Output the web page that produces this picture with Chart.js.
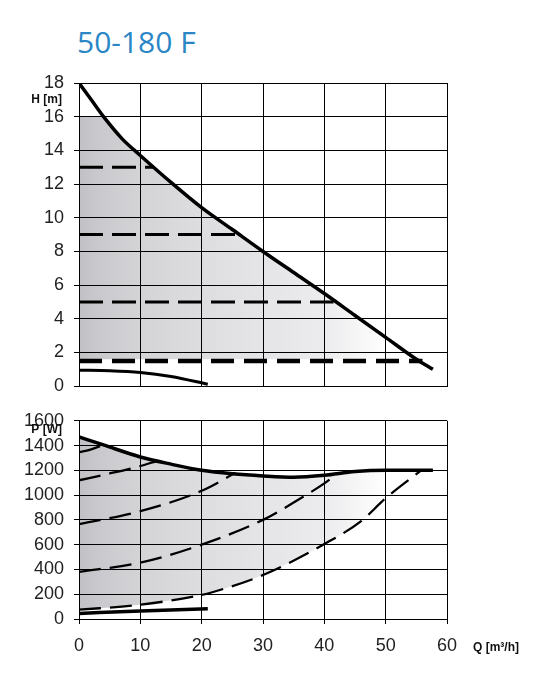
<!DOCTYPE html>
<html>
<head>
<meta charset="utf-8">
<script src="https://cdn.jsdelivr.net/npm/chart.js@4.4.0/dist/chart.umd.min.js"></script>
<style>
  body { margin: 0; background: #fff; width: 560px; height: 682px; position: relative; overflow: hidden; }
  #title { position: absolute; left: 77px; top: 27px; font: 400 30px/30px "Open Sans", sans-serif; color: #2a86c5; }
  canvas { position: absolute; left: 0; }
</style>
</head>
<body>
<div id="title">50-180 F</div>
<canvas id="headChart" width="560" height="407" style="top:0;width:560px;height:407px"></canvas>
<canvas id="powerChart" width="560" height="282" style="top:400px;width:560px;height:282px"></canvas>
<script>
// flow axis
var qMin = 0, qMax = 60, qStep = 10;

// head H [m]
var headQ = [0, 2, 4, 7, 10, 15, 20, 25, 30, 35, 40, 45, 50, 55, 57.7];
var headH = [18, 17, 16, 14.7, 13.7, 12.1, 10.6, 9.3, 8.0, 6.75, 5.5, 4.2, 2.9, 1.6, 1.0];
var headMinQ = [0, 5, 10, 15, 21];
var headMinH = [0.95, 0.92, 0.82, 0.58, 0.12];
var shadeHQ = [0, 3.9, 7, 10, 15, 20, 25, 30, 35, 40, 45, 50, 55.6];
var shadeHH = [16, 16, 14.7, 13.7, 12.1, 10.6, 9.3, 8.0, 6.75, 5.5, 4.2, 2.9, 1.6];
var shadeHBase = 1.6;
var levelH = [13, 9, 5, 1.5];
var levelEndQ = [12.2, 25.5, 41.5, 56];

// power P [W]
var powQ = [0, 4, 10, 15, 20, 25, 30, 35, 40, 45, 50, 57.7];
var powP = [1470, 1405, 1308, 1250, 1200, 1172, 1155, 1145, 1160, 1190, 1200, 1200];
var powMinQ = [0, 10, 21];
var powMinP = [45, 65, 82];
var shadePQ = [0, 4, 10, 15, 20, 25, 30, 35, 40, 45, 50, 55.8];
var shadePP = [1470, 1405, 1308, 1250, 1200, 1172, 1155, 1145, 1160, 1190, 1200, 1200];
var dashQ = [
  [0, 2, 4],
  [0, 5, 10, 12.7],
  [0, 10, 20, 25.5],
  [0, 10, 20, 30, 35, 40, 41.5],
  [0, 10, 20, 22, 30, 40, 46, 50, 55.8]
];
var dashP = [
  [1345, 1370, 1405],
  [1120, 1175, 1235, 1275],
  [765, 870, 1035, 1180],
  [380, 455, 600, 800, 940, 1095, 1150],
  [75, 115, 195, 220, 355, 605, 790, 975, 1200]
];

function pts(xs, ys) {
  return xs.map(function (x, i) { return { x: x, y: ys[i] }; });
}

function shade(ctx) {
  var ca = ctx.chart.chartArea;
  if (!ca) return 'rgba(0,0,0,0)';
  var g = ctx.chart.ctx.createLinearGradient(ca.left, 0, ca.right, 0);
  g.addColorStop(0, '#c1c1c5');
  g.addColorStop(0.05, '#c9c9cd');
  g.addColorStop(0.17, '#d4d4d7');
  g.addColorStop(0.33, '#dddde0');
  g.addColorStop(0.5, '#e5e5e8');
  g.addColorStop(0.67, '#ececee');
  g.addColorStop(0.76, '#f6f6f7');
  g.addColorStop(0.84, '#ffffff');
  return g;
}

var tickFont = { family: '"Liberation Sans", Arial, sans-serif', size: 18 };

function xAxis(showLabels) {
  return {
    type: 'linear', min: qMin, max: qMax,
    ticks: { stepSize: qStep, display: showLabels, font: tickFont, color: '#222', padding: 11, maxRotation: 0 },
    grid: { color: '#000', lineWidth: 1, drawTicks: showLabels, tickLength: 5 },
    border: { color: '#000', width: 1 },
    afterFit: function (s) { s.height = showLabels ? 40 : 0; }
  };
}

function yAxis(max, step) {
  return {
    min: 0, max: max,
    ticks: { stepSize: step, font: tickFont, color: '#222', padding: 10,
      callback: function (v) { return String(v); } },
    grid: { color: '#000', lineWidth: 1, tickLength: 5 },
    border: { color: '#000', width: 1 },
    afterFit: function (s) { s.width = 79; }
  };
}

// axis captions drawn at scale positions
function captions(items) {
  return {
    id: 'captions',
    afterDraw: function (chart) {
      var c = chart.ctx;
      c.save();
      c.fillStyle = '#111';
      c.font = 'bold 12px "Liberation Sans", Arial, sans-serif';
      c.textBaseline = 'middle';
      items.forEach(function (it) {
        var p = it.pos(chart);
        c.textAlign = it.align;
        c.fillText(it.text, p.x, p.y);
      });
      c.restore();
    }
  };
}

var solid = function (data, w) {
  return { data: data, borderColor: '#000', borderWidth: w, pointRadius: 0, fill: false, cubicInterpolationMode: 'monotone' };
};

// head chart
var headSets = [];
headSets.push({ data: pts(shadeHQ, shadeHH), borderWidth: 0, borderColor: 'rgba(0,0,0,0)', pointRadius: 0,
  fill: { value: shadeHBase }, backgroundColor: shade, cubicInterpolationMode: 'monotone' });
headSets.push(solid(pts(headQ, headH), 3.5));
headSets.push(solid(pts(headMinQ, headMinH), 3));
levelH.forEach(function (h, i) {
  var last = i === levelH.length - 1;
  headSets.push({ data: pts([0, levelEndQ[i]], [h, h]), borderColor: '#000',
    borderWidth: last ? 4.5 : 3, borderDash: last ? [23, 10] : [24, 9], pointRadius: 0, fill: false });
});

new Chart(document.getElementById('headChart'), {
  type: 'line',
  data: { datasets: headSets },
  options: {
    responsive: false, animation: false, devicePixelRatio: 1,
    layout: { autoPadding: false, padding: { left: 0, top: 83, right: 113, bottom: 15 } },
    scales: { x: xAxis(false), y: yAxis(18, 2) },
    plugins: { legend: { display: false }, tooltip: { enabled: false }, filler: { drawTime: 'beforeDraw' } }
  },
  plugins: [captions([
    { text: 'H [m]', align: 'right', pos: function (ch) { return { x: ch.scales.y.right - 17, y: ch.scales.y.getPixelForValue(17) }; } }
  ])]
});

// power chart
var powSets = [];
powSets.push({ data: pts(shadePQ, shadePP), borderWidth: 0, borderColor: 'rgba(0,0,0,0)', pointRadius: 0,
  fill: { target: 3 + dashQ.length - 1 }, backgroundColor: shade, cubicInterpolationMode: 'monotone' });
powSets.push(solid(pts(powQ, powP), 3.5));
powSets.push(solid(pts(powMinQ, powMinP), 3.5));
dashQ.forEach(function (qs, i) {
  powSets.push({ data: pts(qs, dashP[i]), borderColor: '#000', borderWidth: 2.3, borderDash: [22, 9],
    pointRadius: 0, fill: false, cubicInterpolationMode: 'monotone' });
});

new Chart(document.getElementById('powerChart'), {
  type: 'line',
  data: { datasets: powSets },
  options: {
    responsive: false, animation: false, devicePixelRatio: 1,
    layout: { autoPadding: false, padding: { left: 0, top: 18, right: 113, bottom: 23 } },
    scales: { x: xAxis(true), y: yAxis(1600, 200) },
    plugins: { legend: { display: false }, tooltip: { enabled: false }, filler: { drawTime: 'beforeDraw' } }
  },
  plugins: [captions([
    { text: 'P [W]', align: 'right', pos: function (ch) { return { x: ch.scales.y.right - 17, y: ch.scales.y.getPixelForValue(1530) }; } },
    { text: 'Q [m\u00b3/h]', align: 'left', pos: function (ch) { return { x: ch.chartArea.right + 26, y: ch.chartArea.bottom + 29 }; } }
  ])]
});
</script>
</body>
</html>
